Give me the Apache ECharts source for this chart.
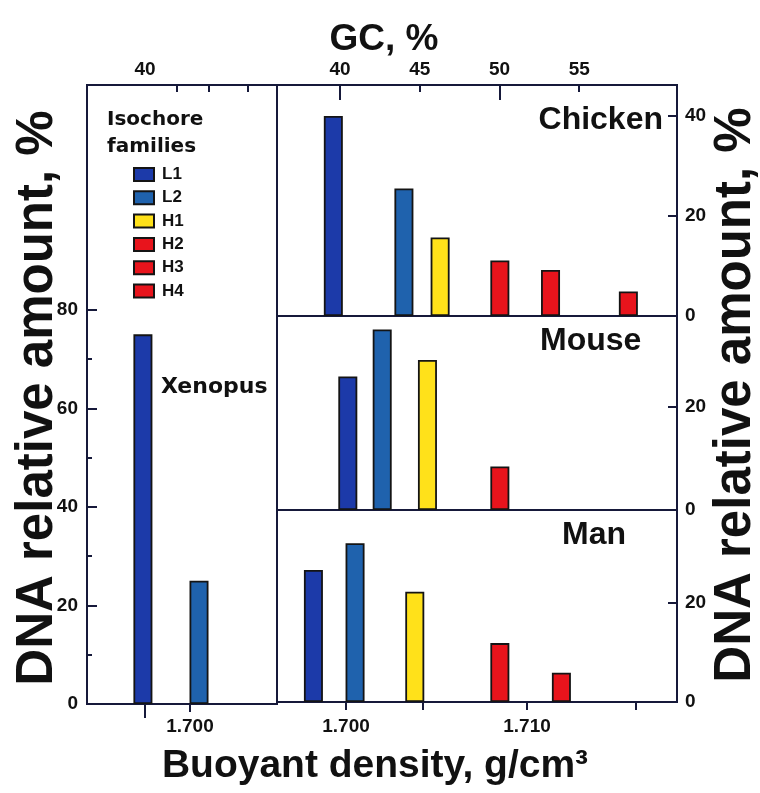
<!DOCTYPE html>
<html><head><meta charset="utf-8">
<script src="https://cdn.jsdelivr.net/npm/echarts@6/dist/echarts.min.js"></script>
<style>html,body{margin:0;padding:0;background:#fff}#c{width:760px;height:793px}</style>
</head><body><div id="c"></div>
<script>
// ---- data ----
const families = ['L1', 'L2', 'H1', 'H2', 'H3', 'H4'];
const familyColors = ['#1c3aa9', '#1f62ad', '#ffe11a', '#e8141c', '#e8141c', '#e8141c'];

const xenopusFamilies = ['L1', 'L2'];
const xenopusDensity = [1.6974, 1.7005];
const xenopusAmount = [75, 25];

const chickenFamilies = ['L1', 'L2', 'H1', 'H2', 'H3', 'H4'];
const chickenDensity = [1.6993, 1.7032, 1.7052, 1.7085, 1.7113, 1.7156];
const chickenAmount = [40, 25.5, 15.7, 11.1, 9.2, 4.9];

const mouseFamilies = ['L1', 'L2', 'H1', 'H2'];
const mouseDensity = [1.7001, 1.7020, 1.7045, 1.7085];
const mouseAmount = [25.8, 34.9, 29.0, 8.4];

const manFamilies = ['L1', 'L2', 'H1', 'H2', 'H3'];
const manDensity = [1.6982, 1.7005, 1.7038, 1.7085, 1.7119];
const manAmount = [26.7, 32.1, 22.3, 11.9, 5.9];

// tick labels / tick positions
const leftAmountLabels = [0, 20, 40, 60, 80];
const leftAmountMinor = [10, 30, 50, 70];
const chickenAmountLabels = [0, 20, 40];
const chickenAmountTicks = [20, 40];
const mouseAmountLabels = [0, 20];
const manAmountLabels = [0, 20];
const densityLabelsLeft = [1.700];
const densityLabelsRight = [1.700, 1.710];
const densityTicksRight = [1.700, 1.70425, 1.710, 1.716];
const gcLabelsLeft = [40];
const gcMinorLeft = [42, 44, 46.4];
const gcLabelsRight = [40, 45, 50, 55];
const gcMajorRight = [40, 50];
const gcMinorRight = [45, 55];

// ---- styling ----
const FONT = "'Liberation Sans', Arial, sans-serif";
const FONT2 = "'DejaVu Sans', sans-serif";
const INK = '#111111';
const FRAME = '#16193a';

const chart = echarts.init(document.getElementById('c'), null, {renderer: 'canvas'});

const lineStyle = {color: FRAME, width: 2};
const tickLabel = {fontFamily: FONT, fontWeight: 'bold', fontSize: 19, color: INK};

function hiddenX(grid, min, max) {
  return {type: 'value', gridIndex: grid, min: min, max: max, show: false, splitLine: {show: false}};
}
function axis(base, extra) { return Object.assign({splitLine: {show: false}}, base, extra); }

const densLeftMin = 1.69431, densLeftMax = 1.70481;
const densRightMin = 1.696188, densRightMax = 1.718287;
const gcLeftMin = 36.375, gcLeftMax = 48.25;
const gcRightMin = 36.05, gcRightMax = 61.13;

const xAxes = [
  axis({type: 'value', gridIndex: 0, position: 'bottom', min: densLeftMin, max: densLeftMax}, {
    axisLine: {show: true, lineStyle: lineStyle},
    axisTick: {show: true, inside: false, length: 8, lineStyle: lineStyle, customValues: densityLabelsLeft},
    axisLabel: Object.assign({margin: 13, customValues: densityLabelsLeft, formatter: v => v.toFixed(3)}, tickLabel)
  }),
  hiddenX(1, densRightMin, densRightMax),
  hiddenX(2, densRightMin, densRightMax),
  axis({type: 'value', gridIndex: 3, position: 'bottom', min: densRightMin, max: densRightMax}, {
    axisLine: {show: true, lineStyle: lineStyle},
    axisTick: {show: true, inside: false, length: 8, lineStyle: lineStyle, customValues: densityTicksRight},
    axisLabel: Object.assign({margin: 15, customValues: densityLabelsRight, formatter: v => v.toFixed(3)}, tickLabel)
  }),
  axis({type: 'value', gridIndex: 0, position: 'top', min: gcLeftMin, max: gcLeftMax}, {
    axisLine: {show: true, lineStyle: lineStyle},
    axisTick: {show: true, inside: true, length: 14, lineStyle: lineStyle, customValues: gcLabelsLeft},
    axisLabel: Object.assign({margin: 6, customValues: gcLabelsLeft}, tickLabel)
  }),
  axis({type: 'value', gridIndex: 0, position: 'top', min: gcLeftMin, max: gcLeftMax}, {
    axisLine: {show: false},
    axisTick: {show: true, inside: true, length: 7, lineStyle: lineStyle, customValues: gcMinorLeft},
    axisLabel: {show: false}
  }),
  axis({type: 'value', gridIndex: 1, position: 'top', min: gcRightMin, max: gcRightMax}, {
    axisLine: {show: true, lineStyle: lineStyle},
    axisTick: {show: true, inside: true, length: 15, lineStyle: lineStyle, customValues: gcMajorRight},
    axisLabel: Object.assign({margin: 6, customValues: gcLabelsRight}, tickLabel)
  }),
  axis({type: 'value', gridIndex: 1, position: 'top', min: gcRightMin, max: gcRightMax}, {
    axisLine: {show: false},
    axisTick: {show: true, inside: true, length: 7, lineStyle: lineStyle, customValues: gcMinorRight},
    axisLabel: {show: false}
  })
];

function rightY(grid, max, labels, ticks) {
  return axis({type: 'value', gridIndex: grid, position: 'right', min: 0, max: max}, {
    axisLine: {show: true, lineStyle: lineStyle},
    axisTick: {show: true, inside: true, length: 9, lineStyle: lineStyle, customValues: ticks},
    axisLabel: Object.assign({margin: 8, customValues: labels}, tickLabel)
  });
}

const yAxes = [
  axis({type: 'value', gridIndex: 0, position: 'left', min: 0, max: 125.6}, {
    axisLine: {show: true, lineStyle: lineStyle},
    axisTick: {show: true, inside: true, length: 10, lineStyle: lineStyle, customValues: leftAmountLabels},
    axisLabel: Object.assign({margin: 9, customValues: leftAmountLabels}, tickLabel)
  }),
  axis({type: 'value', gridIndex: 0, position: 'left', min: 0, max: 125.6}, {
    axisLine: {show: false},
    axisTick: {show: true, inside: true, length: 5, lineStyle: lineStyle, customValues: leftAmountMinor},
    axisLabel: {show: false}
  }),
  rightY(1, 46.2, chickenAmountLabels, chickenAmountTicks),
  rightY(2, 37.5, mouseAmountLabels, [20]),
  rightY(3, 38.8, manAmountLabels, [20])
];

function makeSeries(fams, dens, amts, xi, yi) {
  return fams.map((f, i) => ({
    type: 'bar', name: f, xAxisIndex: xi, yAxisIndex: yi,
    barWidth: 19, barGap: '-100%',
    data: [[dens[i], amts[i]]],
    itemStyle: {color: familyColors[families.indexOf(f)], borderColor: '#141414', borderWidth: 1.8},
    silent: true
  }));
}

const series = [].concat(
  makeSeries(xenopusFamilies, xenopusDensity, xenopusAmount, 0, 0),
  makeSeries(chickenFamilies, chickenDensity, chickenAmount, 1, 2),
  makeSeries(mouseFamilies, mouseDensity, mouseAmount, 2, 3),
  makeSeries(manFamilies, manDensity, manAmount, 3, 4)
);

const gridBase = {show: true, borderColor: FRAME, borderWidth: 2, containLabel: false};

function txt(x, y, text, size, opts) {
  return Object.assign({
    type: 'text', x: x, y: y, silent: true,
    style: Object.assign({text: text, fill: INK, font: 'bold ' + size + 'px ' + FONT,
      textAlign: 'left', textVerticalAlign: 'middle'}, (opts && opts.style) || {})
  }, opts && opts.el || {});
}

const option = {
  animation: false,
  backgroundColor: '#ffffff',
  grid: [
    Object.assign({left: 87, top: 85, width: 190, height: 619}, gridBase),
    Object.assign({left: 277, top: 85, width: 400, height: 231}, gridBase),
    Object.assign({left: 277, top: 316, width: 400, height: 194}, gridBase),
    Object.assign({left: 277, top: 510, width: 400, height: 192}, gridBase)
  ],
  xAxis: xAxes,
  yAxis: yAxes,
  legend: {
    orient: 'vertical', left: 128, top: 161, icon: 'rect',
    itemWidth: 20, itemHeight: 13, itemGap: 6.3, selectedMode: false,
    data: families,
    textStyle: {fontFamily: FONT, fontWeight: 'bold', fontSize: 17, color: INK, lineHeight: 13, padding: [0, 0, 0, 3]}
  },
  series: series,
  graphic: [
    txt(384, 40, 'GC, %', 37, {style: {textAlign: 'center'}}),
    txt(375, 766, 'Buoyant density, g/cm³', 39, {style: {textAlign: 'center'}}),
    txt(38, 398, 'DNA relative amount, %', 51, {style: {textAlign: 'center'}, el: {rotation: Math.PI / 2}}),
    txt(736, 395, 'DNA relative amount, %', 51, {style: {textAlign: 'center'}, el: {rotation: Math.PI / 2}}),
    txt(663, 120, 'Chicken', 32, {style: {textAlign: 'right'}}),
    txt(540, 341, 'Mouse', 32),
    txt(562, 535, 'Man', 32),
    txt(161, 387, 'Xenopus', 22, {style: {font: 'bold 22px ' + FONT2}}),
    txt(107, 120, 'Isochore', 20, {style: {font: 'bold 20px ' + FONT2}}),
    txt(107, 147, 'families', 20, {style: {font: 'bold 20px ' + FONT2}})
  ]
};

chart.setOption(option);
</script>
</body></html>
